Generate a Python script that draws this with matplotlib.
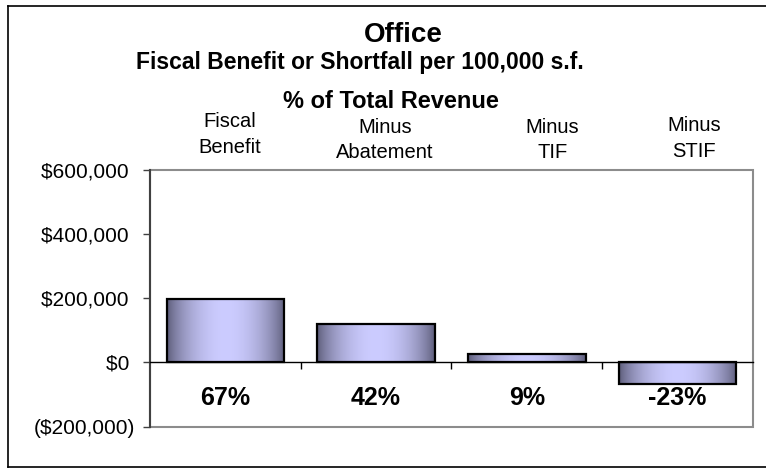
import matplotlib
matplotlib.use("Agg")
import matplotlib.pyplot as plt
import matplotlib.ticker as mticker
from matplotlib.lines import Line2D
from matplotlib.patches import Rectangle
import numpy as np

plt.rcParams['font.family'] = ['Liberation Sans', 'DejaVu Sans']

categories = ["Fiscal\nBenefit", "Minus\nAbatement", "Minus\nTIF", "Minus\nSTIF"]
values = [198000, 121000, 25000, -67000]
pct_labels = ["67%", "42%", "9%", "-23%"]
yticks = [-200000, 0, 200000, 400000, 600000]


def money(v, pos=None):
    # accounting style: negatives in brackets, positives padded to line up
    if v < 0:
        return "(${:,.0f})".format(-v)
    return "${:,.0f} ".format(v)


fig = plt.figure(figsize=(7.66, 4.68), dpi=100)
ax = fig.add_axes([0.1958, 0.0882, 0.7872, 0.5496])

x = np.arange(len(categories))
bars = ax.bar(x, values, width=0.78, facecolor='none', edgecolor='black',
              linewidth=1.6, zorder=3)

# cylinder-like shading: dark edges, pale lavender centre
t = np.linspace(0, 1, 256)
shade = np.sin(np.pi * t) ** 0.7
dark = np.array([0.34, 0.34, 0.45])
light = np.array([0.80, 0.80, 1.00])
grad = dark[None, :] + (light - dark)[None, :] * shade[:, None]
grad = grad[None, :, :]
for b in bars:
    bx, by = b.get_x(), b.get_y()
    w, h = b.get_width(), b.get_height()
    im = ax.imshow(grad, extent=[bx, bx + w, by, by + h], aspect='auto',
                   origin='lower', zorder=2, interpolation='bilinear')
    im.set_clip_path(b)

ax.set_xlim(-0.5, len(categories) - 0.5)
ax.set_ylim(yticks[0], yticks[-1])
ax.set_yticks(yticks)
ax.yaxis.set_major_formatter(mticker.FuncFormatter(money))
ax.tick_params(axis='y', direction='out', length=5, width=1, pad=6,
               labelsize=15, color='#404040')

# category axis sits on the zero line
ax.spines['bottom'].set_position(('data', 0))
ax.spines['bottom'].set_color('black')
ax.spines['bottom'].set_linewidth(1)
ax.set_xticks(x[:-1] + 0.5)
ax.set_xticklabels([])
ax.tick_params(axis='x', direction='out', length=5, width=1, color='black')
ax.spines['left'].set_color('#404040')
ax.spines['left'].set_linewidth(1.5)
for s in ('top', 'right'):
    ax.spines[s].set_visible(False)
ax.add_patch(Rectangle((0, 0), 1, 1, transform=ax.transAxes, fill=False,
                       edgecolor='#8c8c8c', linewidth=1.5, zorder=0.5,
                       clip_on=False))

# category names above the plot, slightly staggered
label_dx = [0.03, 0.06, 0.17, 0.11]
label_y = [1.135, 1.115, 1.115, 1.12]
for i, name in enumerate(categories):
    ax.text(x[i] + label_dx[i], label_y[i], name, transform=ax.get_xaxis_transform(),
            ha='center', va='center', fontsize=14.5, linespacing=1.45)

for i, p in enumerate(pct_labels):
    ax.text(x[i], -112000, p, ha='center', va='center', fontsize=18,
            fontweight='bold')

fig.text(0.527, 1 - 35 / 468, "Office", ha='center', va='center',
         fontsize=20, fontweight='bold')
fig.text(0.470, 1 - 63 / 468, "Fiscal Benefit or Shortfall per 100,000 s.f.",
         ha='center', va='center', fontsize=16.5, fontweight='bold')
fig.text(0.510, 1 - 102 / 468, "% of Total Revenue", ha='center', va='center',
         fontsize=17, fontweight='bold')

# outer chart frame (open on the right)
fx0, fy0, fy1 = 8 / 766, 1 / 468, 1 - 6 / 468
for xs, ys in (([fx0, 1], [fy1, fy1]), ([fx0, fx0], [fy0, fy1]), ([fx0, 1], [fy0, fy0])):
    fig.add_artist(Line2D(xs, ys, transform=fig.transFigure, color='black', linewidth=1.2))

fig.savefig("out.png", dpi=100)
